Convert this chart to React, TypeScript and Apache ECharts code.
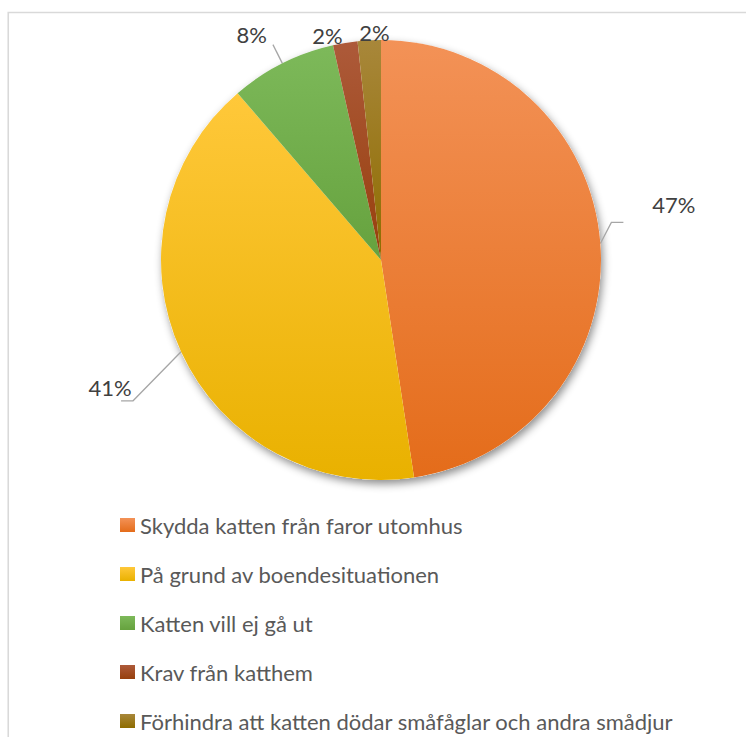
import React, { useEffect, useRef } from "react";
import * as echarts from "echarts";

const categories = [
  "Skydda katten från faror utomhus",
  "På grund av boendesituationen",
  "Katten vill ej gå ut",
  "Krav från katthem",
  "Förhindra att katten dödar småfåglar och andra smådjur",
];
const values = [47.6, 41.1, 7.8, 1.8, 1.7];
const topColors = ["#F39257", "#FFC83A", "#7DB95A", "#AD5A3A", "#A8873A"];
const bottomColors = ["#E46C1A", "#E9B100", "#66A23E", "#973F0C", "#8E6C00"];

const FONT = "Lato, 'Noto Sans', sans-serif";

export default function App() {
  const ref = useRef<HTMLDivElement>(null);
  useEffect(() => {
    if (!ref.current) return;
    const chart = echarts.init(ref.current, undefined, { renderer: "svg" });
    const lineCfg = [
      { show: true, length: 11, length2: 12 },
      { show: true, length: 50, length2: 12 },
      { show: true, length: 21, length2: 0 },
      { show: false, length: 10, length2: 0 },
      { show: false, length: 10, length2: 0 },
    ];
    const shifts = [
      [24, -38],
      [13, 15],
      [-1, -10],
      [4, 2],
      [26, 2],
    ];
    // leader-line bends relative to the slice edge point: [dx, dy, horizontal run]
    const bends: (number[] | null)[] = [[11, -21, 12], [-48, 49, -12], null, null, null];
    const data = categories.map((name, i) => ({
      name,
      value: values[i],
      itemStyle: {
        color: new echarts.graphic.LinearGradient(0, 0, 0, 1, [
          { offset: 0, color: topColors[i] },
          { offset: 1, color: bottomColors[i] },
        ]),
      },
      labelLine: lineCfg[i],
    }));
    chart.setOption({
      animation: false,
      backgroundColor: "#ffffff",
      graphic: [
        {
          type: "rect",
          shape: { x: 8.25, y: 12.5, width: 900, height: 900 },
          style: { fill: "none", stroke: "#d9d9d9", lineWidth: 1.6 },
          silent: true,
          z: -10,
        },
      ],
      legend: {
        orient: "vertical",
        left: 120,
        top: 513,
        height: 300,
        padding: 0,
        itemWidth: 15,
        itemHeight: 14,
        itemGap: 25,
        icon: "rect",
        data: categories,
        textStyle: { fontFamily: FONT, fontSize: 22, color: "#595959", lineHeight: 24 },
      },
      series: [
        {
          type: "pie",
          silent: true,
          radius: 220,
          center: [381, 260],
          label: { show: false },
          labelLine: { show: false },
          itemStyle: {
            color: "#ffffff",
            shadowBlur: 9,
            shadowOffsetX: 2,
            shadowOffsetY: 4,
            shadowColor: "rgba(0,0,0,0.45)",
          },
          data: [{ name: "_bg", value: 1 }],
          z: 1,
        },
        {
          type: "pie",
          radius: 220,
          center: [381, 260],
          startAngle: 90,
          clockwise: true,
          avoidLabelOverlap: false,
          percentPrecision: 0,
          z: 2,
          label: {
            show: true,
            position: "outside",
            formatter: "{d}%",
            fontFamily: FONT,
            fontSize: 22,
            color: "#404040",
          },
          labelLine: { lineStyle: { color: "#a6a6a6", width: 1.3 } },
          labelLayout: (p: any) => {
            const s = shifts[p.dataIndex];
            const res: any = { dx: s[0], dy: s[1] };
            const b = bends[p.dataIndex];
            if (b && p.labelLinePoints && p.labelLinePoints.length) {
              const x0 = p.labelLinePoints[0][0];
              const y0 = p.labelLinePoints[0][1];
              res.labelLinePoints = [
                [x0, y0],
                [x0 + b[0], y0 + b[1]],
                [x0 + b[0] + b[2], y0 + b[1]],
              ];
            }
            return res;
          },
          itemStyle: { borderWidth: 0 },
          data,
        },
      ],
    });
    return () => chart.dispose();
  }, []);
  return (
    <div
      ref={ref}
      style={{ position: "fixed", left: 0, top: 0, width: 746, height: 737 }}
    />
  );
}
